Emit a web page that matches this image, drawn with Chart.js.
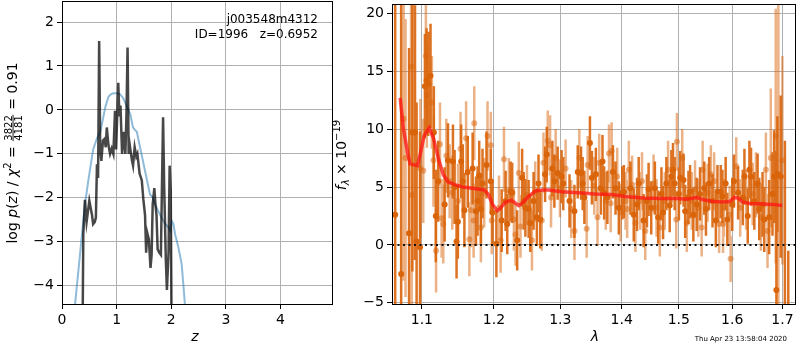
<!DOCTYPE html>
<html>
<head>
<meta charset="utf-8">
<script src="https://cdn.jsdelivr.net/npm/chart.js@4.4.1/dist/chart.umd.min.js"></script>
<style>
body { margin: 0; background: #fff; width: 800px; height: 350px; position: relative; overflow: hidden; }
canvas { position: absolute; top: 0; }
#pz { left: 0; }
#sp { left: 330px; }
</style>
</head>
<body>
<canvas id="pz" width="340" height="350"></canvas>
<canvas id="sp" width="470" height="350"></canvas>
<script>
// left panel: redshift probability
const zTicks = [0, 1, 2, 3, 4];
const lnpTicks = [-4, -3, -2, -1, 0, 1, 2];
const zLimits = [0, 4.96];
const lnpLimits = [-4.42, 2.48];

const zPrior = [0.22, 0.24, 0.30, 0.36, 0.42, 0.48, 0.57, 0.64, 0.70, 0.75, 0.79, 0.85, 0.90, 0.94, 1.00,
  1.06, 1.12, 1.18, 1.25, 1.30, 1.33, 1.37, 1.43, 1.52, 1.61, 1.66, 1.70, 1.76, 1.82, 1.88,
  1.95, 1.98, 2.01, 2.04, 2.07, 2.13, 2.19, 2.24, 2.27];
const lnpPrior = [-4.8, -4.41, -3.66, -2.9, -2.15, -1.62, -0.9, -0.65, -0.5, -0.2, 0.05, 0.3, 0.36, 0.38, 0.38,
  0.36, 0.27, 0.1, -0.1, -0.4, -0.45, -0.5, -0.86, -1.39, -1.92, -2.0, -2.15, -2.3, -2.45, -2.58,
  -2.68, -2.75, -2.53, -2.6, -2.83, -3.13, -3.51, -4.27, -4.8];

const zFit = [0.36, 0.38, 0.39, 0.42, 0.45, 0.50, 0.55, 0.57, 0.60, 0.62, 0.64, 0.66, 0.68, 0.70, 0.72,
  0.75, 0.78, 0.80, 0.82, 0.85, 0.88, 0.91, 0.94, 0.97, 0.99, 1.01, 1.03, 1.05, 1.07, 1.10,
  1.13, 1.15, 1.16, 1.18, 1.20, 1.22, 1.24, 1.28, 1.30, 1.33, 1.36, 1.38, 1.42, 1.46, 1.49,
  1.52, 1.54, 1.56, 1.59, 1.62, 1.64, 1.66, 1.69, 1.71, 1.73, 1.75, 1.78, 1.81, 1.83, 1.85,
  1.87, 1.90, 1.92, 1.95, 1.97, 1.99, 2.01];
const lnpFit = [-6, -4.5, -2.83, -2.05, -2.55, -2.07, -2.4, -2.6, -2.55, -2.45, -1.24, -1.55, 1.57, -0.9, -1.16,
  -0.7, -0.66, -0.85, -0.4, -0.8, -1.0, -0.88, -1.0, -0.02, -0.9, -0.15, 0.62, -0.15, 0.1, -1.0,
  -0.5, -0.85, -1.0, -0.1, 1.42, -1.0, -0.8, -1.15, -1.27, -0.85, -1.06, -1.0, -1.45, -1.6, -2.05,
  -2.4, -3.25, -2.8, -2.95, -3.6, -3.3, -2.15, -1.78, -2.15, -2.4, -3.17, -3.25, -3.3, -1.7, -0.17,
  -1.73, -3.4, -4.1, -3.25, -1.27, -1.85, -6];

// right panel: spectrum
const lamTicks = [1.1, 1.2, 1.3, 1.4, 1.5, 1.6, 1.7];
const fluxTicks = [-5, 0, 5, 10, 15, 20];
const lamLimits = [1.061, 1.728];
const fluxLimits = [-5.1, 20.8];

const lamA = [1.0651, 1.0728, 1.0831, 1.0874, 1.0909, 1.0930, 1.0975, 1.1040, 1.1062, 1.1084,
  1.1115, 1.1160, 1.1186, 1.1218, 1.1306, 1.1352, 1.1420, 1.1443, 1.1470, 1.1488,
  1.1534, 1.1556, 1.1579, 1.1626, 1.1695, 1.1742, 1.1765, 1.1788, 1.1812, 1.1835,
  1.1892, 1.1954, 1.1978, 1.2035, 1.2112, 1.2170, 1.2194, 1.2243, 1.2267, 1.2341,
  1.2415, 1.2439, 1.2464, 1.2513, 1.2538, 1.2588, 1.2638, 1.2663, 1.2689, 1.2764,
  1.2790, 1.2877, 1.2908, 1.2959, 1.3021, 1.3047, 1.3146, 1.3224, 1.3277, 1.3330,
  1.3357, 1.3384, 1.3474, 1.3506, 1.3571, 1.3653, 1.3680, 1.3707, 1.3761, 1.3853,
  1.3897, 1.3952, 1.4010, 1.4038, 1.4149, 1.4206, 1.4263, 1.4291, 1.4376, 1.4434,
  1.4463, 1.4509, 1.4573, 1.4631, 1.4689, 1.4718, 1.4777, 1.4836, 1.4866, 1.4895,
  1.4925, 1.5002, 1.5026, 1.5086, 1.5116, 1.5176, 1.5206, 1.5266, 1.5327, 1.5389,
  1.5469, 1.5500, 1.5561, 1.5623, 1.5686, 1.5717, 1.5780, 1.5811, 1.5873, 1.5905,
  1.6000, 1.6033, 1.6113, 1.6205, 1.6237, 1.6302, 1.6335, 1.6367, 1.6432, 1.6497,
  1.6530, 1.6596, 1.6630, 1.6729, 1.6796, 1.6829, 1.6876, 1.6896, 1.6964, 1.7050, 1.7120];
const fluxA = [2.6, -2.5, 1.0, 9.7, 9.7, 0.3, -0.2, 13.7, 14.2, 13.9,
  14.6, 9.7, 2.5, 5.5, 3.5, 7.3, 7.2, 5.0, 0.3, 2.0,
  7.2, 5.5, 3.0, 6.3, 6.6, 2.9, 3.8, 6.0, 3.1, 5.3,
  6.9, 5.5, 2.8, 0.1, 2.1, 3.8, 1.8, 4.6, 4.5, 0.4,
  5.8, 3.8, 3.2, 3.1, 1.9, 3.8, 2.4, 5.3, 2.2, 6.1,
  7.8, 6.6, 5.5, 6.2, 5.9, 5.3, 3.8, 2.9, 6.3, 6.2,
  5.3, 4.1, 8.8, 5.8, 6.1, 4.9, 7.2, 4.5, 4.1, 6.3,
  4.9, 3.2, 4.5, 4.6, 4.9, 2.6, 3.5, 5.3, 2.1, 3.8,
  4.8, 3.2, 4.9, 2.4, 4.4, 2.8, 5.3, 3.4, 5.9, 6.5,
  5.3, 4.4, 5.8, 5.6, 2.9, 4.1, 4.6, 2.6, 3.5, 4.4,
  4.9, 3.1, 5.3, 3.8, 2.1, 4.6, 4.6, 4.2, 5.3, 2.2,
  3.5, 5.5, 4.5, 4.1, 5.9, 2.5, 6.5, 5.9, 3.8, 5.3,
  3.1, 3.5, 2.2, 2.4, 4.4, 5.9, -3.9, 6.1, 5.9, -6, -8];
const errA = [25, 24, 16, 12, 11, 12, 10, 4.5, 4.5, 4.5,
  4.5, 4, 4, 3.5, 3.2, 3.2, 3.2, 3.2, 3.2, 3.2,
  3.2, 3.2, 3.2, 3.1, 3.1, 3, 3, 3, 3, 3,
  2.9, 2.8, 2.8, 2.9, 2.7, 2.6, 2.6, 2.6, 2.6, 2.6,
  2.5, 2.5, 2.5, 2.5, 2.5, 2.5, 2.5, 2.5, 2.5, 2.4,
  2.4, 2.4, 2.3, 2.3, 2.3, 2.3, 2.3, 2.3, 2.3, 2.3,
  2.3, 2.3, 2.3, 2.3, 2.3, 2.3, 2.3, 2.3, 2.3, 2.3,
  2.3, 2.3, 2.3, 2.3, 2.3, 2.3, 2.3, 2.3, 2.3, 2.3,
  2.3, 2.3, 2.3, 2.3, 2.3, 2.3, 2.3, 2.3, 2.3, 2.3,
  2.3, 2.3, 2.3, 2.3, 2.3, 2.3, 2.3, 2.3, 2.3, 2.3,
  2.3, 2.3, 2.3, 2.3, 2.3, 2.3, 2.3, 2.3, 2.3, 2.3,
  2.3, 2.3, 2.3, 2.4, 2.4, 2.4, 2.5, 2.5, 2.5, 2.6,
  2.7, 2.8, 2.8, 3.2, 3.6, 4, 12, 5, 7, 15, 7.5];

const lamB = [1.0760, 1.0785, 1.0857, 1.0865, 1.0980, 1.1018, 1.1053, 1.1066, 1.1133, 1.1155,
  1.1190, 1.1243, 1.1265, 1.1288, 1.1329, 1.1375, 1.1411, 1.1490, 1.1525, 1.1603,
  1.1649, 1.1672, 1.1709, 1.1718, 1.1812, 1.1859, 1.1907, 1.1954, 1.1968, 1.2073,
  1.2097, 1.2146, 1.2218, 1.2292, 1.2316, 1.2365, 1.2390, 1.2488, 1.2563, 1.2613,
  1.2713, 1.2739, 1.2805, 1.2841, 1.2856, 1.2928, 1.2995, 1.3084, 1.3173, 1.3225,
  1.3303, 1.3421, 1.3437, 1.3544, 1.3598, 1.3626, 1.3734, 1.3788, 1.3816, 1.3832,
  1.3925, 1.3982, 1.4066, 1.4094, 1.4122, 1.4178, 1.4235, 1.4319, 1.4348, 1.4405,
  1.4550, 1.4602, 1.4660, 1.4748, 1.4807, 1.4954, 1.4966, 1.5062, 1.5146, 1.5236,
  1.5297, 1.5358, 1.5420, 1.5438, 1.5530, 1.5592, 1.5654, 1.5748, 1.5823, 1.5842,
  1.5950, 1.5969, 1.6077, 1.6154, 1.6270, 1.6400, 1.6464, 1.6563, 1.6663, 1.6696,
  1.6762, 1.6862, 1.6916, 1.6998];
const fluxB = [10.9, 7.5, 15.4, 4.3, 6.6, 6.4, 16.3, 12.9, 12.3, 7.3,
  -0.5, 8.7, 2.3, 1.8, 7.7, 5.5, 4.5, 3.8, 8.3, 9.2,
  0.5, 3.0, 2.1, 10.5, 1.5, 4.5, 9.4, 8.6, 2.1, 3.2,
  0.4, 7.4, 4.7, 2.2, 0.9, 6.2, 1.6, 4.3, 0.4, 4.6,
  2.1, 7.1, 9.0, 8.6, 4.1, 7.5, 4.9, 6.6, 3.1, 1.2,
  7.5, 1.4, 6.9, 5.1, 2.4, 7.1, 3.8, 7.9, 3.6, 8.1,
  5.9, 2.8, 3.8, 3.1, 6.5, 5.2, 1.9, 3.8, 5.5, 1.2,
  5.3, 3.2, 1.5, 3.8, 6.5, 2.2, 8.9, 7.5, 1.9, 3.8,
  4.8, 3.2, 1.5, 6.5, 4.5, 6.1, 5.5, 1.8, 1.8, 3.2,
  2.6, -1.2, 6.8, 3.2, 3.9, 4.4, 5.2, 2.4, 6.5, 1.2,
  7.5, 9.4, 6.1, 7.3];
const errB = [14, 12, 8, 10, 6, 4.5, 4.5, 4.5, 4, 4,
  3.6, 3.6, 3.4, 3.4, 3.2, 3.2, 3.2, 3.2, 3.2, 3.2,
  3.2, 3.2, 3.2, 3.2, 3, 3, 3, 2.9, 2.9, 2.8,
  2.8, 2.8, 2.8, 2.7, 2.7, 2.7, 2.7, 2.6, 2.6, 2.6,
  2.6, 2.6, 2.6, 2.6, 2.6, 2.5, 2.5, 2.5, 2.5, 2.5,
  2.5, 2.5, 2.5, 2.5, 2.5, 2.5, 2.5, 2.5, 2.5, 2.5,
  2.5, 2.5, 2.5, 2.5, 2.5, 2.5, 2.5, 2.5, 2.5, 2.5,
  2.5, 2.5, 2.5, 2.5, 2.5, 2.5, 2.5, 2.5, 2.5, 2.5,
  2.5, 2.5, 2.5, 2.5, 2.5, 2.5, 2.5, 2.5, 2.5, 2.5,
  2.5, 2.0, 2.5, 2.5, 2.6, 2.7, 2.8, 2.9, 3.2, 3.2,
  6, 11, 15, 9];

const lamModel = [1.0715, 1.0758, 1.0810, 1.0844, 1.0940, 1.0975, 1.1031, 1.1097, 1.1155, 1.1221,
  1.1288, 1.1352, 1.1443, 1.1556, 1.1742, 1.1859, 1.1921, 1.1978, 1.2049, 1.2097,
  1.2170, 1.2257, 1.2316, 1.2365, 1.2415, 1.2513, 1.2613, 1.2713, 1.2815, 1.3021,
  1.3282, 1.3549, 1.3821, 1.4099, 1.4382, 1.4671, 1.4966, 1.5146, 1.5266, 1.5327,
  1.5450, 1.5636, 1.5823, 1.5950, 1.6044, 1.6108, 1.6205, 1.6367, 1.6530, 1.6796, 1.6998];
const fluxModel = [12.7, 10.0, 8.0, 7.0, 6.85, 7.75, 9.45, 10.1, 9.2, 7.45,
  6.05, 5.45, 5.2, 5.0, 4.85, 4.75, 4.35, 3.5, 2.95, 3.2,
  3.7, 3.85, 3.6, 3.4, 3.6, 4.2, 4.65, 4.75, 4.75, 4.6,
  4.5, 4.4, 4.35, 4.15, 4.05, 4.0, 4.0, 3.95, 4.05, 4.1,
  3.9, 3.75, 3.7, 3.75, 4.1, 4.05, 3.7, 3.55, 3.55, 3.5, 3.4];

const FONT = 'DejaVu Sans';
const minus = v => String(v).replace('-', '\u2212');

function pairs(xs, ys) { return xs.map((x, i) => ({ x: x, y: ys[i] })); }
function errSegments(xs, ys, es) {
  const out = [];
  xs.forEach((x, i) => {
    out.push({ x: x, y: ys[i] - es[i] }, { x: x, y: ys[i] + es[i] }, { x: x, y: null });
  });
  return out;
}

function fixedAxis(size, vertical, tickVals) {
  return {
    afterBuildTicks: s => { s.ticks = tickVals.map(v => ({ value: v })); },
    afterFit: s => {
      if (vertical) s.width = size; else s.height = size;
      s.paddingTop = 0; s.paddingBottom = 0; s.paddingLeft = 0; s.paddingRight = 0;
    }
  };
}

function axis(type, lim, tickVals, size, vertical, fmt) {
  return Object.assign({
    type: type,
    min: lim[0], max: lim[1],
    grid: { color: '#b0b0b0', lineWidth: 1, tickColor: '#000', tickLength: 5 },
    border: { display: false },
    ticks: { color: '#000', font: { family: FONT, size: 14 }, padding: 3, autoSkip: false, maxRotation: 0, callback: fmt }
  }, fixedAxis(size, vertical, tickVals));
}

// rich text helpers for the math-style labels
function segWidth(ctx, s) {
  ctx.font = s.f;
  if (s.frac) return Math.max(ctx.measureText(s.frac[0]).width, ctx.measureText(s.frac[1]).width) + 2;
  return ctx.measureText(s.t).width;
}
function drawRich(ctx, segs, cx, cy, rotate) {
  ctx.save();
  ctx.translate(cx, cy);
  if (rotate) ctx.rotate(-Math.PI / 2);
  ctx.fillStyle = '#000';
  ctx.textBaseline = 'alphabetic';
  let x = -segs.reduce((a, s) => a + segWidth(ctx, s), 0) / 2;
  segs.forEach(s => {
    const w = segWidth(ctx, s);
    ctx.font = s.f;
    if (s.frac) {
      ctx.textAlign = 'center';
      ctx.fillText(s.frac[0], x + w / 2, -0.5);
      ctx.fillText(s.frac[1], x + w / 2, 9.5);
      ctx.fillRect(x + 0.5, 0.6, w - 1, 0.9);
    } else {
      ctx.textAlign = 'left';
      ctx.fillText(s.t, x, 5 + (s.dy || 0));
    }
    x += w;
  });
  ctx.restore();
}

const N = '14px "' + FONT + '"', I = 'italic 14px "' + FONT + '"', S = '10px "' + FONT + '"', SI = 'italic 10px "' + FONT + '"';

const framePlugin = {
  id: 'frame',
  afterDraw(chart) {
    const a = chart.chartArea, ctx = chart.ctx;
    ctx.save();
    ctx.strokeStyle = '#000';
    ctx.lineWidth = 1;
    ctx.strokeRect(Math.round(a.left) + 0.5, Math.round(a.top) + 0.5, Math.round(a.right - a.left) - 1, Math.round(a.bottom - a.top));
    ctx.restore();
  }
};

const baseOpts = {
  responsive: false,
  animation: false,
  events: [],
  plugins: { legend: { display: false }, tooltip: { enabled: false } }
};

new Chart(document.getElementById('pz'), {
  type: 'scatter',
  data: {
    datasets: [
      { data: pairs(zFit, lnpFit), showLine: true, borderColor: 'rgba(0,0,0,0.72)', borderWidth: 2.5, pointRadius: 0, order: 0 },
      { data: pairs(zPrior, lnpPrior), showLine: true, borderColor: 'rgba(31,119,180,0.5)', borderWidth: 2, pointRadius: 0, order: 1 }
    ]
  },
  options: Object.assign({}, baseOpts, {
    layout: { padding: { left: 0, right: 7, top: 1, bottom: 0 } },
    scales: {
      x: axis('linear', zLimits, zTicks, 46, false, v => minus(v)),
      y: axis('linear', lnpLimits, lnpTicks, 62, true, v => minus(v))
    }
  }),
  plugins: [framePlugin, {
    id: 'pzText',
    afterDraw(chart) {
      const ctx = chart.ctx;
      drawRich(ctx, [{ t: 'log ', f: N }, { t: 'p', f: I }, { t: '(', f: N }, { t: 'z', f: I }, { t: ') / ', f: N },
        { t: '\u03c7', f: I }, { t: '2', f: S, dy: -6 }, { t: ' = ', f: N }, { frac: ['3822', '4181'], f: S },
        { t: ' = 0.91', f: N }], 12, 153, true);
      drawRich(ctx, [{ t: 'z', f: I }], 195, 336, false);
      ctx.save();
      ctx.fillStyle = '#000';
      ctx.font = '12px "' + FONT + '"';
      ctx.textAlign = 'right';
      ctx.textBaseline = 'middle';
      ctx.fillText('j003548m4312', 318, 20);
      ctx.fillText('ID=1996   z=0.6952', 318, 35);
      ctx.restore();
    }
  }]
});

const orange = 'rgb(217,100,10)';
const orangeLight = 'rgba(217,100,10,0.5)';

new Chart(document.getElementById('sp'), {
  type: 'scatter',
  data: {
    datasets: [
      { data: pairs(lamModel, fluxModel), showLine: true, borderColor: 'rgba(255,20,20,0.75)', borderWidth: 3.5, pointRadius: 0, order: 0 },
      { data: pairs(lamLimits, [0, 0]), showLine: true, borderColor: '#111', borderWidth: 2, borderDash: [2, 3.5], pointRadius: 0, order: 1 },
      { data: pairs(lamA, fluxA), backgroundColor: orange, borderWidth: 0, pointRadius: 3, order: 2 },
      { data: errSegments(lamA, fluxA, errA), showLine: true, spanGaps: false, borderColor: 'rgba(217,100,10,0.9)', borderWidth: 2.5, pointRadius: 0, order: 3 },
      { data: pairs(lamB, fluxB), backgroundColor: orangeLight, borderWidth: 0, pointRadius: 3, order: 4 },
      { data: errSegments(lamB, fluxB, errB), showLine: true, spanGaps: false, borderColor: orangeLight, borderWidth: 2.5, pointRadius: 0, order: 5 }
    ]
  },
  options: Object.assign({}, baseOpts, {
    layout: { padding: { left: 0, right: 1, top: 1, bottom: 0 } },
    scales: {
      x: Object.assign(axis('logarithmic', lamLimits, lamTicks, 46, false, v => Number(v).toFixed(1)), { z: 1 }),
      y: Object.assign(axis('linear', fluxLimits, fluxTicks, 62, true, v => minus(v)), { z: 1 })
    }
  }),
  plugins: [framePlugin, {
    id: 'spText',
    afterDraw(chart) {
      const ctx = chart.ctx;
      drawRich(ctx, [{ t: 'f', f: I }, { t: '\u03bb', f: SI, dy: 3 }, { t: ' \u00d7 10', f: N }, { t: '\u221219', f: S, dy: -6 }], 11, 155, true);
      drawRich(ctx, [{ t: '\u03bb', f: I }], 265, 336, false);
      ctx.save();
      ctx.fillStyle = '#000';
      ctx.font = '7px "' + FONT + '"';
      ctx.textAlign = 'right';
      ctx.textBaseline = 'middle';
      ctx.fillText('Thu Apr 23 13:58:04 2020', 457, 339);
      ctx.restore();
    }
  }]
});
</script>
</body>
</html>
